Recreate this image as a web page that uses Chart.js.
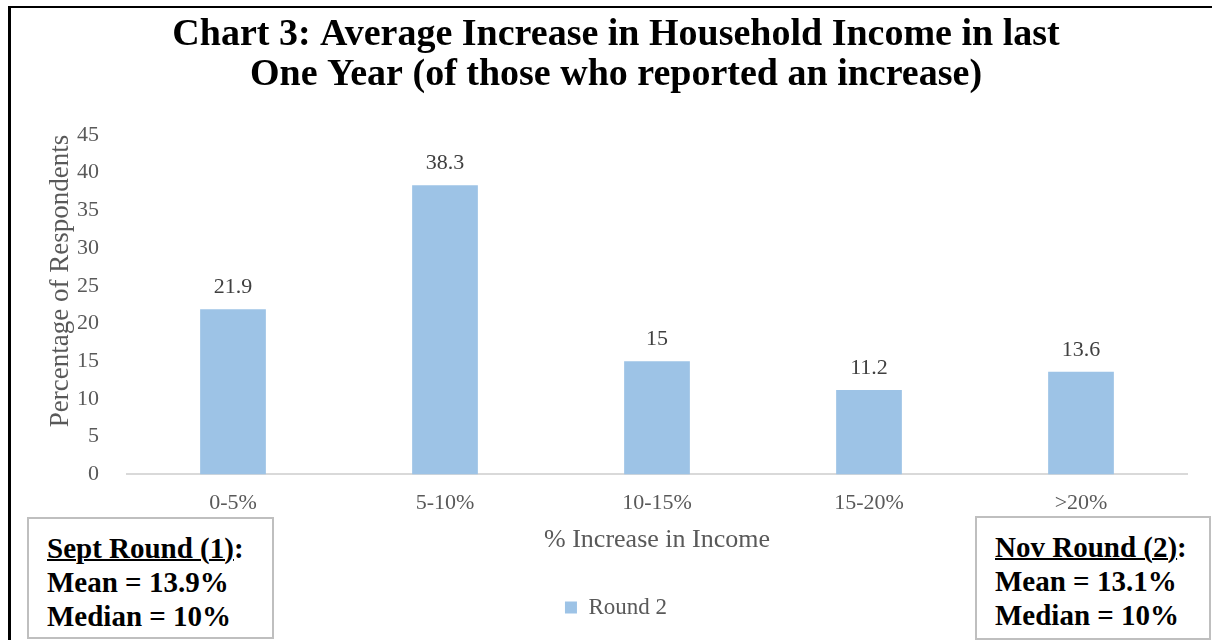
<!DOCTYPE html>
<html>
<head>
<meta charset="utf-8">
<script src="https://cdn.jsdelivr.net/npm/chart.js@4"></script>
<style>
  html, body { margin: 0; padding: 0; background: #fff; }
  #wrap { position: relative; width: 1212px; height: 640px; overflow: hidden; }
  #frame { position: absolute; left: 8px; top: 6px; right: -10px; bottom: -10px;
           border-left: 3px solid #000; border-top: 2px solid #000; }
  canvas { position: absolute; left: 0; top: 0; }
  .note { position: absolute; background: #fff; border: 2px solid #bfbfbf; box-sizing: border-box;
          font-family: "Liberation Serif", "Times New Roman", serif; font-weight: bold;
          font-size: 29px; line-height: 34px; color: #000; padding: 12px 0 0 18px; }
  .note u { text-decoration-thickness: 2px; }
</style>
</head>
<body>
<div id="wrap">
  <div id="frame"></div>
  <canvas id="chart" width="1212" height="640"></canvas>
  <div class="note" style="left:27px; top:517px; width:247px; height:122px;">
    <u>Sept Round (1)</u>:<br>Mean = 13.9%<br>Median = 10%
  </div>
  <div class="note" style="left:975px; top:516px; width:236px; height:124px;">
    <u>Nov Round (2)</u>:<br>Mean = 13.1%<br>Median = 10%
  </div>
</div>
<script>
const categories = ['0-5%', '5-10%', '10-15%', '15-20%', '>20%'];
const round2Values = [21.9, 38.3, 15, 11.2, 13.6];
const valueLabels = ['21.9', '38.3', '15', '11.2', '13.6'];
const seriesName = 'Round 2';

const serif = '"Liberation Serif", "Times New Roman", serif';
const grey = '#595959';

// draws the value above each bar
const barLabelsPlugin = {
    id: 'barLabels',
    afterDatasetsDraw(chart) {
        const ctx = chart.ctx;
        const meta = chart.getDatasetMeta(0);
        ctx.save();
        ctx.font = '22px ' + serif;
        ctx.fillStyle = '#404040';
        ctx.textAlign = 'center';
        ctx.textBaseline = 'alphabetic';
        meta.data.forEach((bar, i) => {
            ctx.fillText(valueLabels[i], bar.x, bar.y - 16);
        });
        ctx.restore();
    }
};

const ctx = document.getElementById('chart').getContext('2d');
const chart = new Chart(ctx, {
    type: 'bar',
    data: {
        labels: categories,
        datasets: [{
            label: seriesName,
            data: round2Values,
            backgroundColor: '#9dc3e6',
            borderWidth: 0,
            categoryPercentage: 1,
            barPercentage: 0.31
        }]
    },
    options: {
        responsive: false,
        animation: false,
        layout: {
            padding: { left: 45, right: 25, top: 0, bottom: 11 }
        },
        plugins: {
            title: {
                display: true,
                text: ['Chart 3: Average Increase in Household Income in last',
                       'One Year (of those who reported an increase)'],
                font: { family: serif, size: 38, weight: 'bold', lineHeight: 1.05 },
                color: '#000',
                padding: { top: 15, bottom: 40 }
            },
            legend: {
                display: true,
                position: 'bottom',
                labels: {
                    font: { family: serif, size: 23 },
                    color: grey,
                    boxWidth: 12,
                    boxHeight: 12,
                    padding: 10
                }
            },
            tooltip: { enabled: false }
        },
        scales: {
            x: {
                grid: { display: false },
                border: { color: '#d9d9d9', width: 2 },
                ticks: { font: { family: serif, size: 22 }, color: grey, padding: 8 },
                title: {
                    display: true,
                    text: '% Increase in Income',
                    font: { family: serif, size: 26 },
                    color: grey,
                    padding: { top: 0, bottom: 30 }
                }
            },
            y: {
                min: 0,
                max: 45,
                grid: { display: false },
                border: { display: false },
                ticks: { stepSize: 5, font: { family: serif, size: 22 }, color: grey, padding: 20 },
                title: {
                    display: true,
                    text: 'Percentage of Respondents',
                    align: 'end',
                    font: { family: serif, size: 27 },
                    color: grey,
                    padding: { top: 0, bottom: 7 }
                },
                afterFit(scale) {
                    scale.width = 82;
                }
            }
        }
    },
    plugins: [ barLabelsPlugin ]
});
</script>
</body>
</html>
